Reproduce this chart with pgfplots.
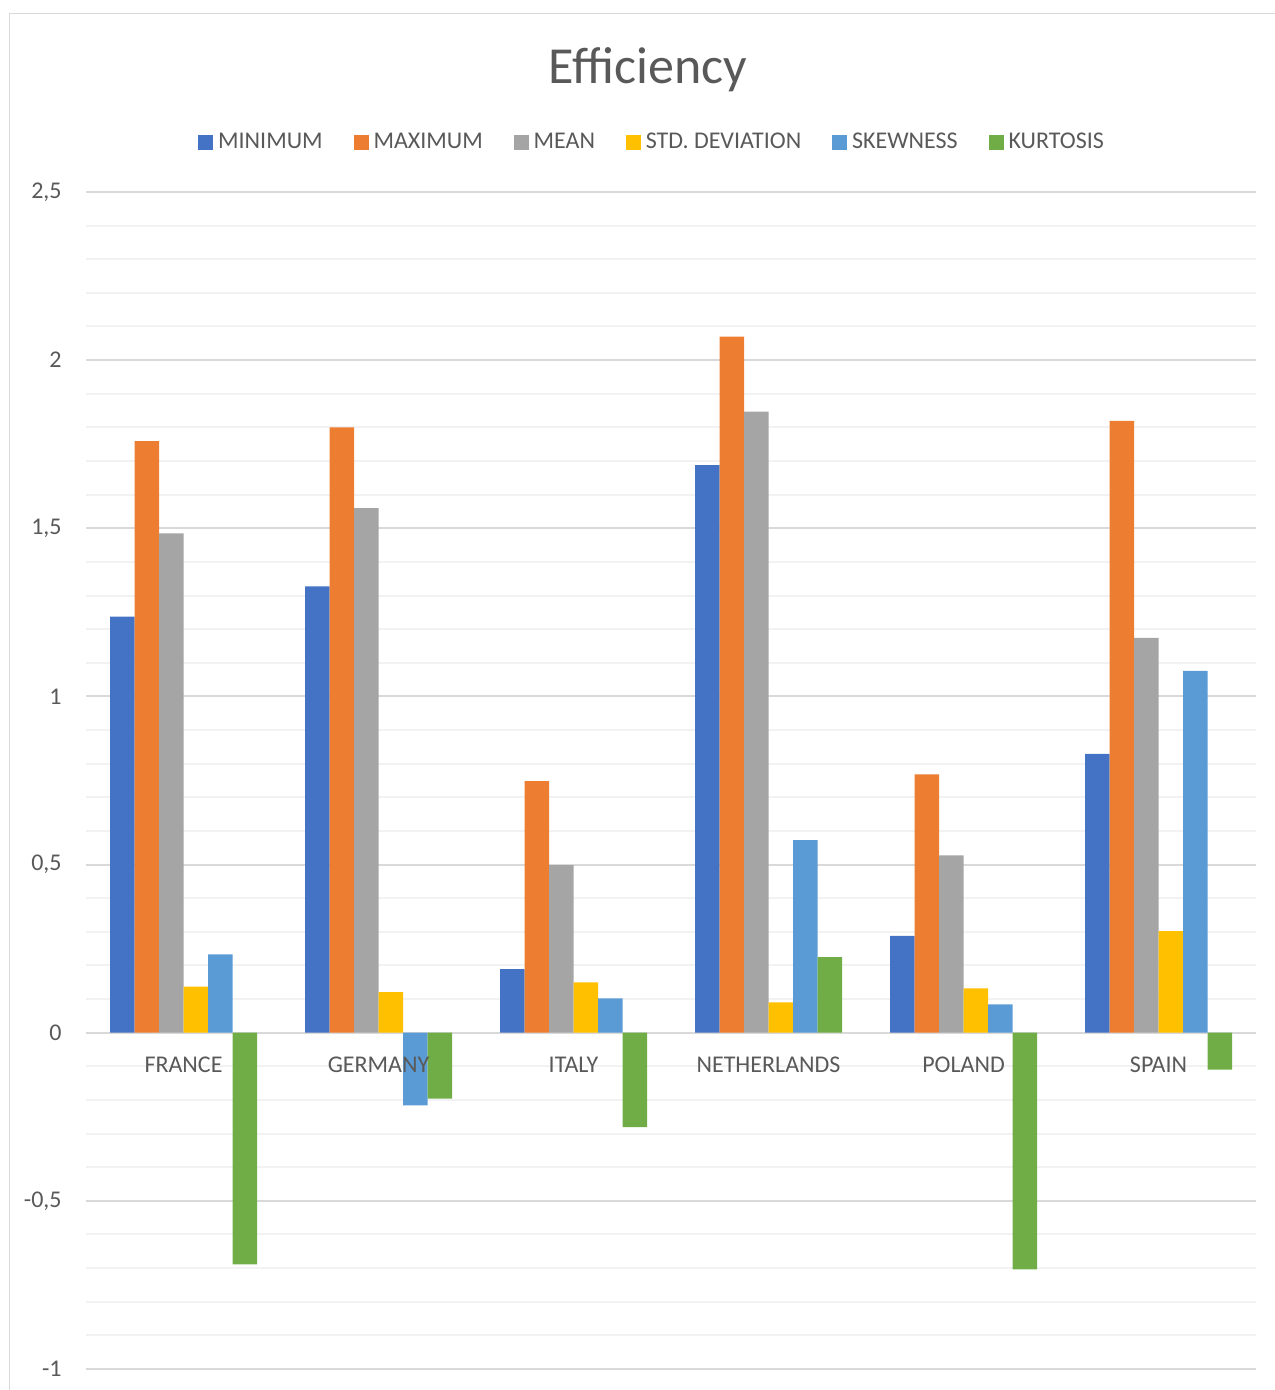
\documentclass[border=0pt]{standalone}
\usepackage{pgfplots}
\usepackage{pgfplotstable}
\pgfplotsset{compat=1.18}
\usepackage{fontspec}
\setmainfont{Carlito}

\definecolor{cMin}{HTML}{4472C4}
\definecolor{cMax}{HTML}{ED7D31}
\definecolor{cMean}{HTML}{A5A5A5}
\definecolor{cStd}{HTML}{FFC000}
\definecolor{cSkew}{HTML}{5B9BD5}
\definecolor{cKurt}{HTML}{70AD47}
\definecolor{txt}{HTML}{595959}
\definecolor{gridmaj}{HTML}{D9D9D9}
\definecolor{gridmin}{HTML}{F2F2F2}

% efficiency statistics per country (x = category index)
\pgfplotstableread{
x  min    max    mean   std    skew    kurt
1  1.237  1.759  1.485  0.137  0.233  -0.689
2  1.327  1.800  1.560  0.121 -0.216  -0.196
3  0.189  0.748  0.498  0.150  0.102  -0.281
4  1.688  2.070  1.847  0.090  0.573   0.225
5  0.288  0.768  0.527  0.132  0.084  -0.704
6  0.829  1.819  1.174  0.302  1.076  -0.110
}\effdata

\pgfplotsset{
  sqlegend/.style={legend image code/.code={%
      \fill[##1] (0bp,-3.7bp) rectangle (7.4bp,3.7bp);}},
}

\newcommand\lbl{\fontsize{12bp}{14bp}\selectfont}

\begin{document}
\begin{tikzpicture}[x=1bp,y=1bp]
\useasboundingbox (0,0) rectangle (637.5,695);
% chart area frame
\draw[gridmaj, line width=0.75bp] (4.75,-20) -- (4.75,688.25) -- (700,688.25);

\begin{axis}[
  at={(43bp,10.5bp)}, anchor=south west,
  scale only axis, width=585bp, height=588.5bp,
  xmin=0.5, xmax=6.5, ymin=-1, ymax=2.5,
  ybar=0pt, bar width=12.25bp,
  axis line style={draw=none},
  xtick=\empty,
  ytick={-1,-0.5,...,2.5},
  yticklabels={-1,{-0,5},0,{0,5},1,{1,5},2,{2,5}},
  major tick length=0pt, minor tick length=0pt,
  minor y tick num=4,
  ymajorgrids, yminorgrids,
  major grid style={gridmaj, line width=1bp},
  minor grid style={gridmin, line width=1bp},
  yticklabel style={font=\lbl, text=txt, inner sep=0pt, anchor=east, xshift=-12bp},
  legend columns=6,
  legend style={draw=none, fill=none, font=\lbl, text=txt,
    at={(0.4830,1.0421)}, anchor=center,
    nodes={inner sep=0pt, anchor=west},
    /tikz/every even column/.append style={column sep=15.5bp},
    /tikz/every odd column/.append style={column sep=2.5bp}},
]
\addplot[fill=cMin, draw=none, sqlegend] table[x=x, y=min] {\effdata};
\addlegendentry{MINIMUM}
\addplot[fill=cMax, draw=none, sqlegend] table[x=x, y=max] {\effdata};
\addlegendentry{MAXIMUM}
\addplot[fill=cMean, draw=none, sqlegend] table[x=x, y=mean] {\effdata};
\addlegendentry{MEAN}
\addplot[fill=cStd, draw=none, sqlegend] table[x=x, y=std] {\effdata};
\addlegendentry{STD. DEVIATION}
\addplot[fill=cSkew, draw=none, sqlegend] table[x=x, y=skew] {\effdata};
\addlegendentry{SKEWNESS}
\addplot[fill=cKurt, draw=none, sqlegend] table[x=x, y=kurt] {\effdata};
\addlegendentry{KURTOSIS}

% category names sit just under the zero line
\foreach \i/\name in {1/FRANCE,2/GERMANY,3/ITALY,4/NETHERLANDS,5/POLAND,6/SPAIN}{
  \edef\temp{\noexpand\node[font=\noexpand\lbl, text=txt, inner sep=0pt, anchor=base, yshift=-19.9bp]
    at (axis cs:\i,0) {\name};}
  \temp
}
\end{axis}

\node[font=\fontsize{26bp}{30bp}\selectfont, text=txt, anchor=base] at (324,653) {Efficiency};
\end{tikzpicture}
\end{document}
